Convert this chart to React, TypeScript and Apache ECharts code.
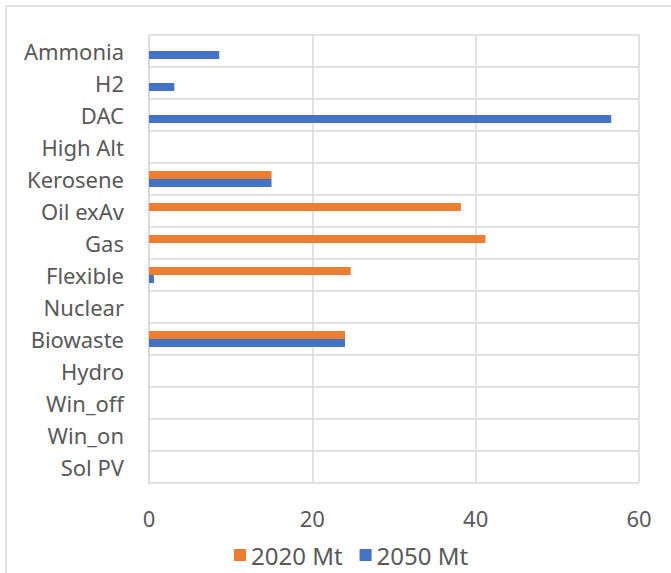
import React, { useEffect, useRef } from "react";
import * as echarts from "echarts";

// Categories listed top to bottom
const categories = [
  "Ammonia",
  "H2",
  "DAC",
  "High Alt",
  "Kerosene",
  "Oil exAv",
  "Gas",
  "Flexible",
  "Nuclear",
  "Biowaste",
  "Hydro",
  "Win_off",
  "Win_on",
  "Sol PV",
];

const values2020: (number | null)[] = [null, null, null, null, 15.0, 38.2, 41.2, 24.7, null, 24.0, null, null, null, null];
const values2050: (number | null)[] = [8.6, 3.1, 56.6, null, 15.0, null, null, 0.6, null, 24.0, null, null, null, null];

const xTicks = [0, 20, 40, 60];

const FONT = "'Noto Sans', 'Open Sans', sans-serif";
const TEXT = "#595959";
const GRID = "#d9d9d9";

export default function App() {
  const ref = useRef<HTMLDivElement>(null);

  useEffect(() => {
    if (!ref.current) return;
    const chart = echarts.init(ref.current, null, { renderer: "svg" });
    chart.setOption({
      animation: false,
      backgroundColor: "#ffffff",
      textStyle: { fontFamily: FONT },
      graphic: [
        {
          type: "rect",
          shape: { x: 6, y: 6, width: 700, height: 600 },
          style: { fill: "none", stroke: GRID, lineWidth: 1.5 },
          silent: true,
          z: -1,
        },
      ],
      legend: {
        left: 229,
        top: 538,
        itemWidth: 12,
        itemHeight: 12,
        itemGap: 17,
        icon: "rect",
        textStyle: { fontSize: 24, color: TEXT, fontFamily: FONT },
        data: ["2020 Mt", "2050 Mt"],
      },
      grid: { left: 149, right: 32, top: 35, bottom: 90, containLabel: false },
      xAxis: {
        type: "value",
        min: xTicks[0],
        max: xTicks[xTicks.length - 1],
        interval: 20,
        axisLine: { show: false },
        axisTick: { show: false },
        axisLabel: { fontSize: 22, color: TEXT, margin: 24, fontFamily: FONT },
        splitLine: { show: true, lineStyle: { color: GRID, width: 1.5 } },
      },
      yAxis: {
        type: "category",
        data: categories,
        inverse: true,
        axisLine: { show: true, lineStyle: { color: GRID, width: 1.5 } },
        axisTick: { show: false },
        axisLabel: { fontSize: 22, color: TEXT, margin: 25, fontFamily: FONT },
        splitLine: { show: true, lineStyle: { color: GRID, width: 1.5 } },
      },
      series: [
        {
          name: "2020 Mt",
          type: "bar",
          data: values2020,
          barWidth: 8,
          barGap: "0%",
          itemStyle: { color: "#ED7D31" },
        },
        {
          name: "2050 Mt",
          type: "bar",
          data: values2050,
          barWidth: 8,
          barGap: "0%",
          itemStyle: { color: "#4472C4" },
        },
      ],
    });
    return () => chart.dispose();
  }, []);

  return (
    <div
      ref={ref}
      style={{ position: "fixed", left: 0, top: 0, width: 671, height: 573, background: "#fff" }}
    />
  );
}
